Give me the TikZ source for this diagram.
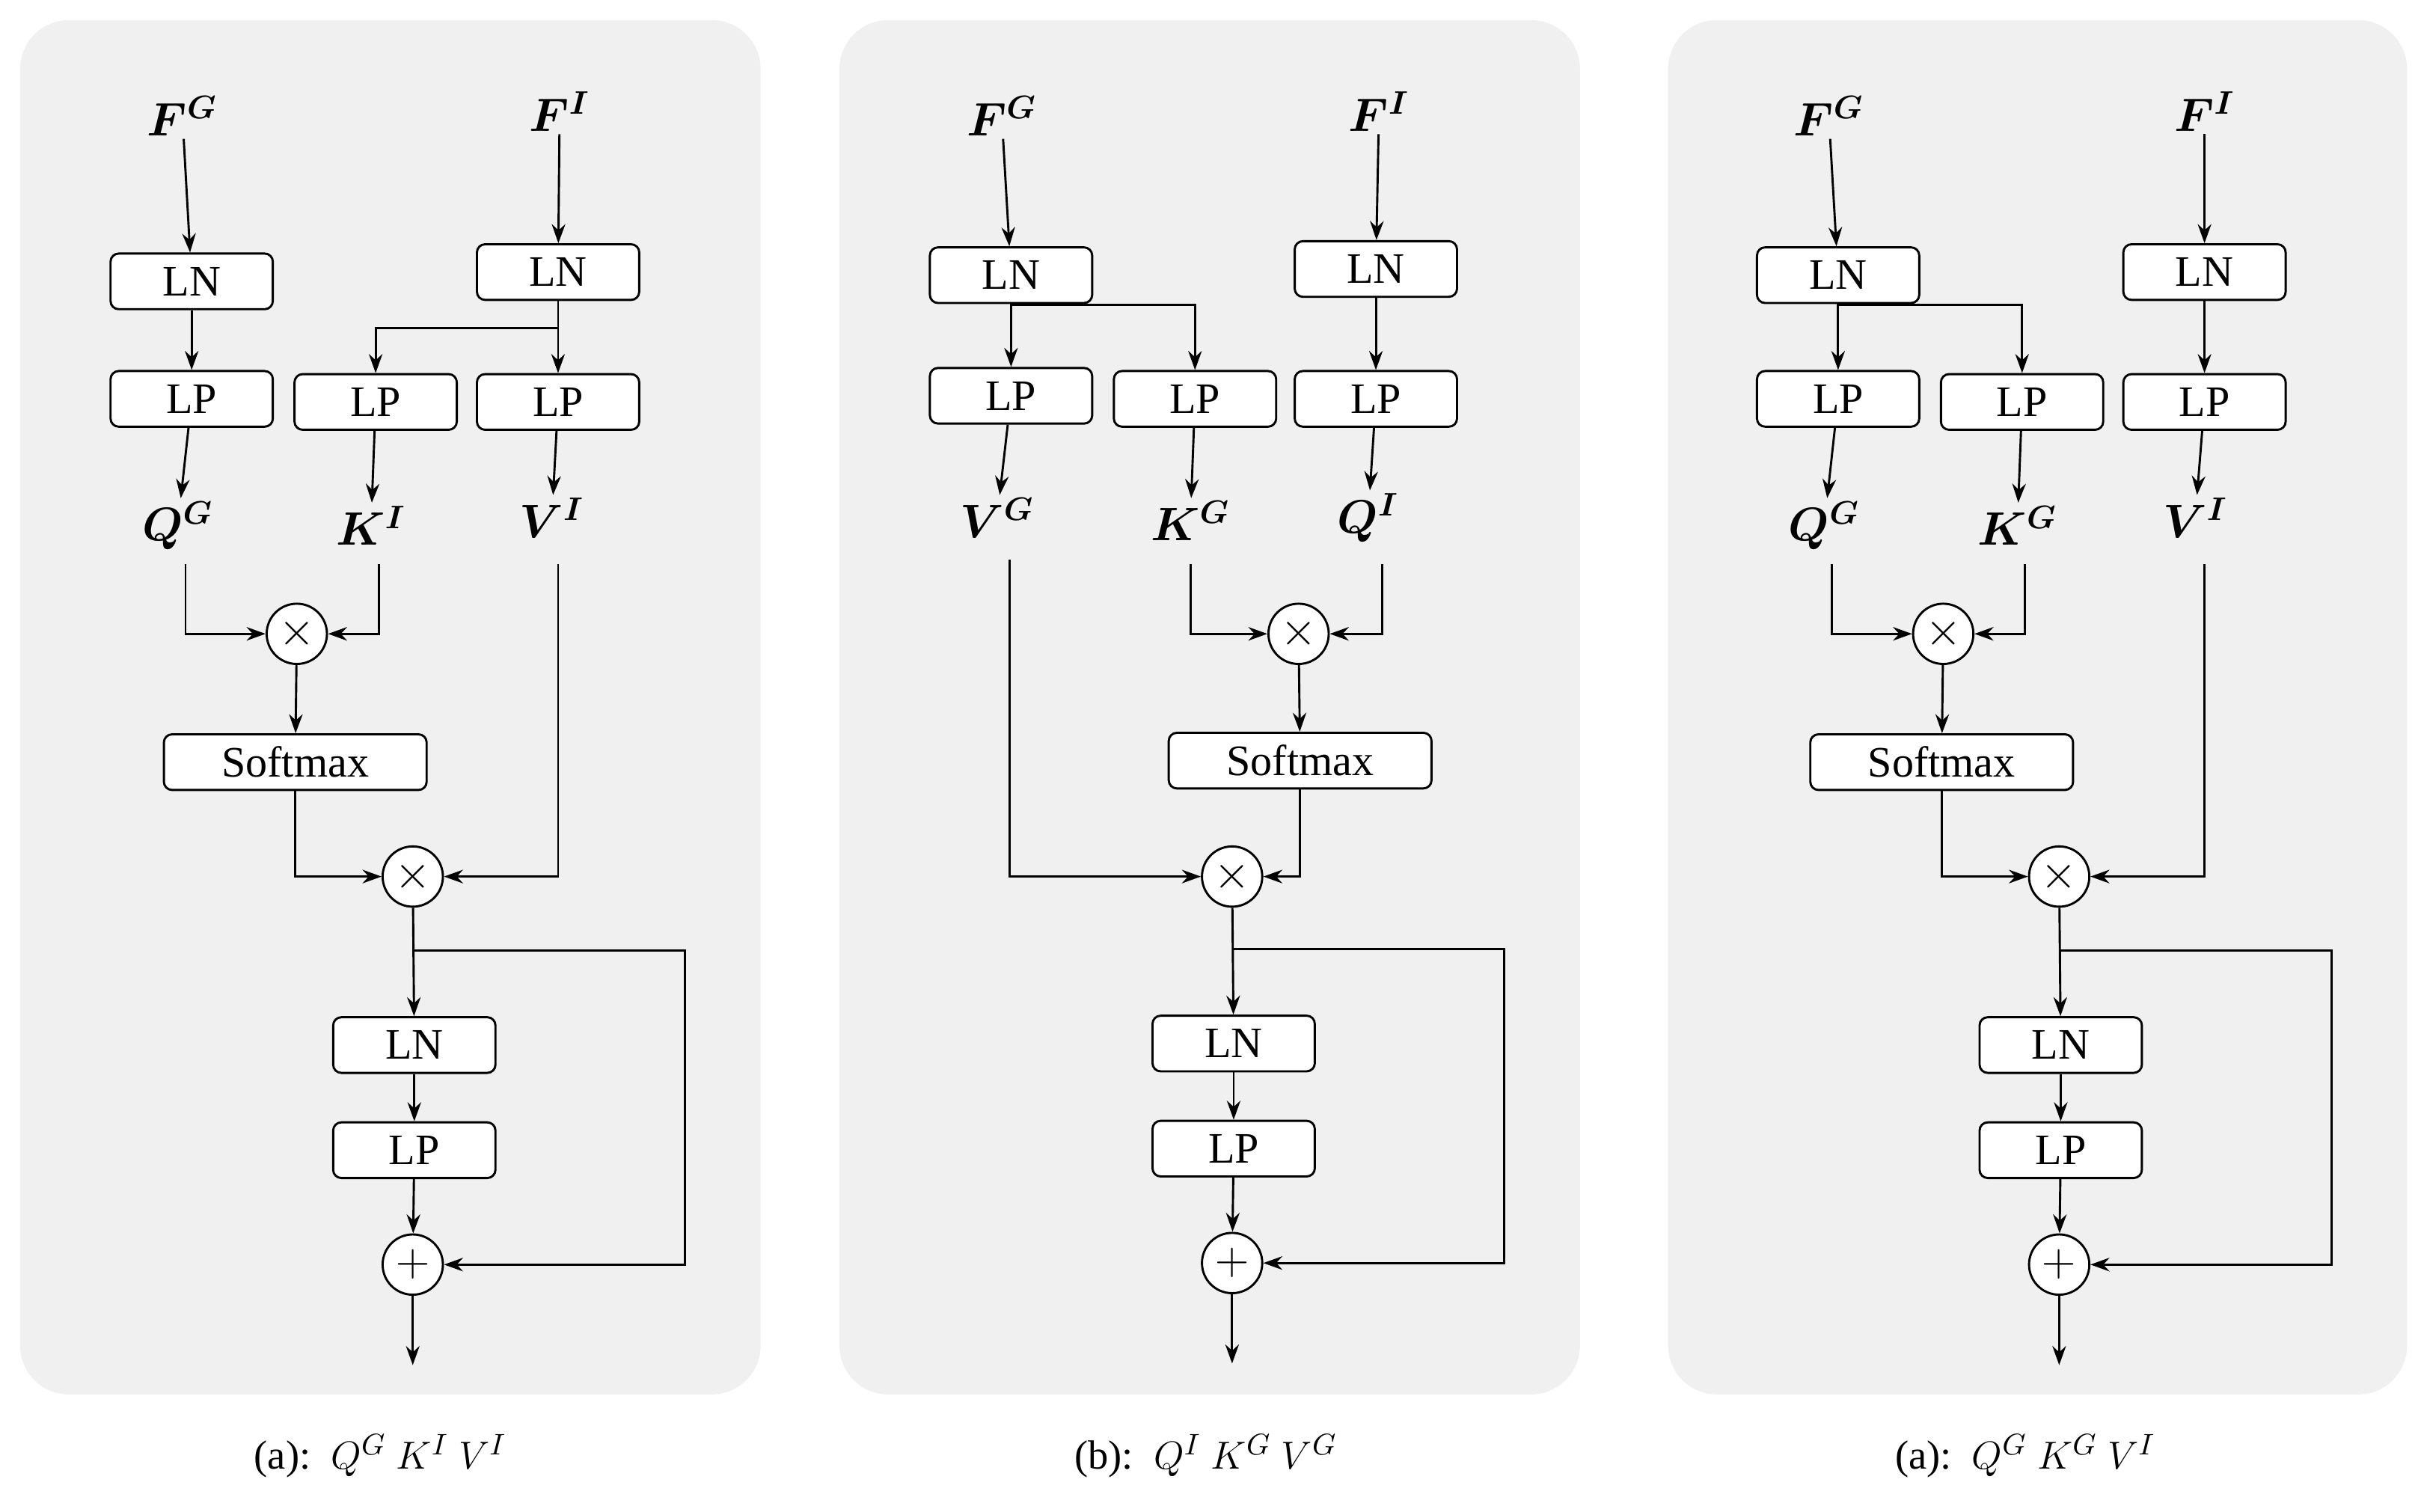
\documentclass[tikz,border=0pt]{standalone}
\usepackage{fontspec}
\setmainfont{Liberation Serif}
\usepackage{bm}
\usetikzlibrary{arrows.meta}
\tikzset{
panel/.style={fill=black!6, draw=none, rounded corners=18},
blk/.style={rectangle, rounded corners=3, draw=black, thick, fill=white, minimum width=2.1cm, minimum height=0.72cm, inner sep=0pt, font=\fontsize{16}{18}\selectfont},
wide/.style={blk, minimum width=3.4cm},
op/.style={circle, draw=black, thick, fill=white, minimum size=0.78cm, inner sep=0pt, font=\fontsize{18}{18}\selectfont},
lbl/.style={inner sep=1pt, font=\fontsize{18}{20}\selectfont},
captxt/.style={font=\fontsize{15}{18}\selectfont},
arrow/.style={thick, -{Stealth[length=7pt,width=5pt]}}
}
\begin{document}
\begin{tikzpicture}[x=0.02cm, y=-0.02cm]
\useasboundingbox (0,0) rectangle (1568,978);
\fill[white] (0,0) rectangle (1568,978);

% ---- panel (a)
\fill[panel] (13,13) rectangle (492,902);
\node (aFG) [lbl] at (118,75) {$\bm{F^G}$};
\node (aFI) [lbl] at (362,72) {$\bm{F^I}$};
\node (aLN1) [blk] at (124,182) {LN};
\node (aLN2) [blk] at (361,176) {LN};
\node (aLP1) [blk] at (124,258) {LP};
\node (aLP2) [blk] at (243,260) {LP};
\node (aLP3) [blk] at (361,260) {LP};
\node (aQ) [lbl] at (115,340) {$\bm{Q^G}$};
\node (aK) [lbl] at (240,340) {$\bm{K^I}$};
\node (aV) [lbl] at (357,335) {$\bm{V^I}$};
\node (aM1) [op] at (192,410) {$\times$};
\node (aSM) [wide] at (191,493) {Softmax};
\node (aM2) [op] at (267,567) {$\times$};
\node (aLN3) [blk] at (268,676) {LN};
\node (aLP4) [blk] at (268,744) {LP};
\node (aP) [op] at (267,818) {$+$};
\coordinate (aOut) at (267,883);
\coordinate (aR) at (267,615);
\draw[arrow] (aFG) -- (aLN1);
\draw[arrow] (aLN1) -- (aLP1);
\draw[arrow] (aLP1) -- (aQ);
\draw[arrow] (aFI) -- (aLN2);
\draw[arrow] (aLN2) -- (aLP3);
\draw[arrow] (361,212) -| (aLP2);
\draw[arrow] (aLP2) -- (aK);
\draw[arrow] (aLP3) -- (aV);
\draw[arrow] (120,365) |- (aM1);
\draw[arrow] (245,365) |- (aM1);
\draw[arrow] (aM1) -- (aSM);
\draw[arrow] (aSM) |- (aM2);
\draw[arrow] (361,365) |- (aM2);
\draw[arrow] (aM2) -- (aLN3);
\draw[arrow] (aLN3) -- (aLP4);
\draw[arrow] (aLP4) -- (aP);
\draw[arrow] (aP) -- (aOut);
\draw[arrow] (aR) -- (443,615) |- (aP);
\node (aCap) [captxt] at (246,942) {(a):\ \ $Q^G\ K^I\ V^I$};

% ---- panel (b)
\fill[panel] (543,13) rectangle (1022,902);
\node (bFG) [lbl] at (648,75) {$\bm{F^G}$};
\node (bFI) [lbl] at (892,72) {$\bm{F^I}$};
\node (bLN1) [blk] at (654,178) {LN};
\node (bLN2) [blk] at (890,174) {LN};
\node (bLP1) [blk] at (654,256) {LP};
\node (bLP2) [blk] at (773,258) {LP};
\node (bLP3) [blk] at (890,258) {LP};
\node (bV) [lbl] at (645,335) {$\bm{V^G}$};
\node (bK) [lbl] at (770,337) {$\bm{K^G}$};
\node (bQ) [lbl] at (885,335) {$\bm{Q^I}$};
\node (bM1) [op] at (840,410) {$\times$};
\node (bSM) [wide] at (841,492) {Softmax};
\node (bM2) [op] at (797,567) {$\times$};
\node (bLN3) [blk] at (798,675) {LN};
\node (bLP4) [blk] at (798,743) {LP};
\node (bP) [op] at (797,817) {$+$};
\coordinate (bOut) at (797,882);
\coordinate (bR) at (797,614);
\draw[arrow] (bFG) -- (bLN1);
\draw[arrow] (bLN1) -- (bLP1);
\draw[arrow] (bLP1) -- (bV);
\draw[arrow] (654,197) -| (bLP2);
\draw[arrow] (bLP2) -- (bK);
\draw[arrow] (bFI) -- (bLN2);
\draw[arrow] (bLN2) -- (bLP3);
\draw[arrow] (bLP3) -- (bQ);
\draw[arrow] (770,365) |- (bM1);
\draw[arrow] (894,365) |- (bM1);
\draw[arrow] (bM1) -- (bSM);
\draw[arrow] (bSM) |- (bM2);
\draw[arrow] (653,362) |- (bM2);
\draw[arrow] (bM2) -- (bLN3);
\draw[arrow] (bLN3) -- (bLP4);
\draw[arrow] (bLP4) -- (bP);
\draw[arrow] (bP) -- (bOut);
\draw[arrow] (bR) -- (973,614) |- (bP);
\node (bCap) [captxt] at (780,942) {(b):\ \ $Q^I\ K^G\ V^G$};

% ---- panel (c)
\fill[panel] (1079,13) rectangle (1557,902);
\node (cFG) [lbl] at (1183,75) {$\bm{F^G}$};
\node (cFI) [lbl] at (1426,72) {$\bm{F^I}$};
\node (cLN1) [blk] at (1189,178) {LN};
\node (cLN2) [blk] at (1426,176) {LN};
\node (cLP1) [blk] at (1189,258) {LP};
\node (cLP2) [blk] at (1308,260) {LP};
\node (cLP3) [blk] at (1426,260) {LP};
\node (cQ) [lbl] at (1180,340) {$\bm{Q^G}$};
\node (cK) [lbl] at (1305,340) {$\bm{K^G}$};
\node (cV) [lbl] at (1420,335) {$\bm{V^I}$};
\node (cM1) [op] at (1257,410) {$\times$};
\node (cSM) [wide] at (1256,493) {Softmax};
\node (cM2) [op] at (1332,567) {$\times$};
\node (cLN3) [blk] at (1333,676) {LN};
\node (cLP4) [blk] at (1333,744) {LP};
\node (cP) [op] at (1332,818) {$+$};
\coordinate (cOut) at (1332,883);
\coordinate (cR) at (1332,615);
\draw[arrow] (cFG) -- (cLN1);
\draw[arrow] (cLN1) -- (cLP1);
\draw[arrow] (cLP1) -- (cQ);
\draw[arrow] (1189,197) -| (cLP2);
\draw[arrow] (cLP2) -- (cK);
\draw[arrow] (cFI) -- (cLN2);
\draw[arrow] (cLN2) -- (cLP3);
\draw[arrow] (cLP3) -- (cV);
\draw[arrow] (1185,365) |- (cM1);
\draw[arrow] (1310,365) |- (cM1);
\draw[arrow] (cM1) -- (cSM);
\draw[arrow] (cSM) |- (cM2);
\draw[arrow] (1426,365) |- (cM2);
\draw[arrow] (cM2) -- (cLN3);
\draw[arrow] (cLN3) -- (cLP4);
\draw[arrow] (cLP4) -- (cP);
\draw[arrow] (cP) -- (cOut);
\draw[arrow] (cR) -- (1508,615) |- (cP);
\node (cCap) [captxt] at (1310,942) {(a):\ \ $Q^G\ K^G\ V^I$};
\end{tikzpicture}
\end{document}
